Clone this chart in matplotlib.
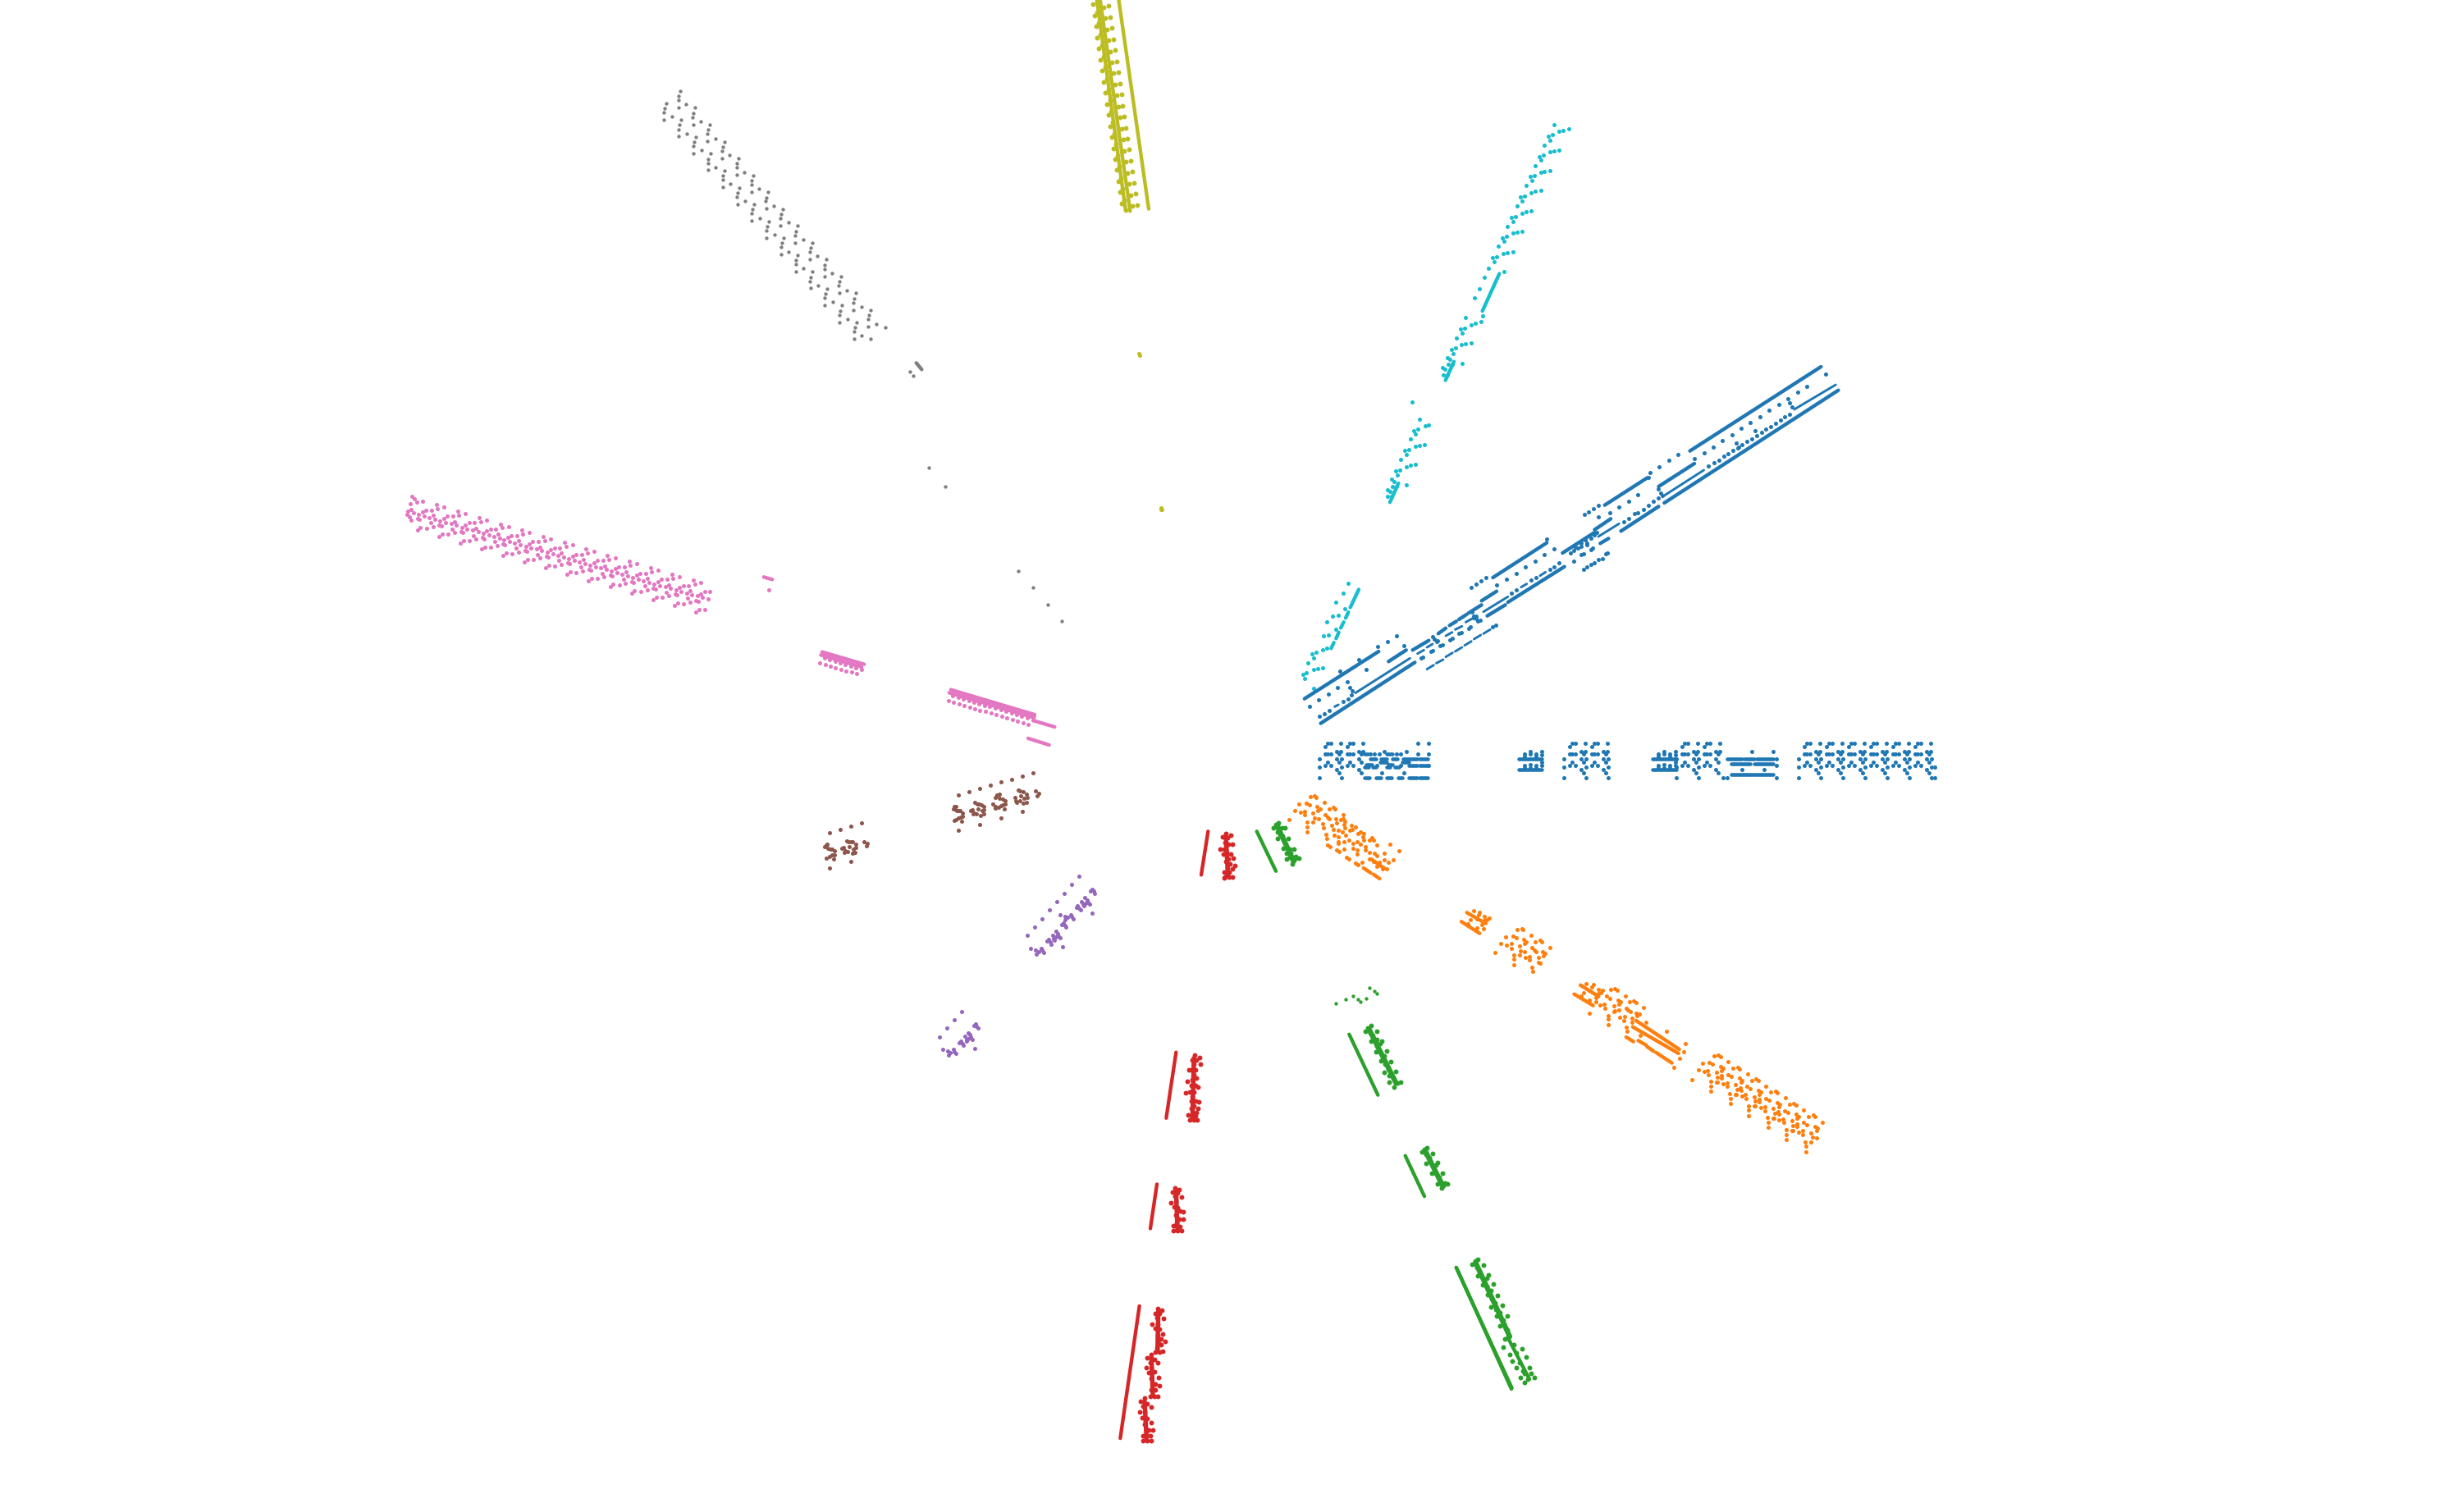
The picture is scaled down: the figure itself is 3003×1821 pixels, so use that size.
import numpy as np
import matplotlib
matplotlib.use('Agg')
import matplotlib.pyplot as plt

BLUE, ORANGE, GREEN, RED, PURPLE = '#1f77b4', '#ff7f0e', '#2ca02c', '#d62728', '#9467bd'
BROWN, PINK, GRAY, OLIVE, CYAN = '#8c564b', '#e377c2', '#7f7f7f', '#bcbd22', '#17becf'

# values, each block in the units of the crop it was read from

# blue, horizontal spoke: one list of x per row
blue_row_907 = [1618, 1622, 1634, 1645, 1649, 1661, 1728, 1741, 1916, 1920, 1932, 1943, 1947, 1959, 2053, 2057, 2069, 2080, 2084, 2096,
                2202, 2206, 2218, 2229, 2233, 2245, 2256, 2260, 2272, 2283, 2287, 2299, 2310, 2314, 2326, 2337, 2341, 2353]
blue_row_911 = [1615, 1642, 1913, 1940, 2050, 2077, 2199, 2226, 2253, 2280, 2307, 2334]
blue_row_917 = [1629, 1634, 1656, 1661, 1927, 1932, 1954, 1959, 2064, 2069, 2091, 2096, 2135, 2161, 2213, 2218, 2240, 2245, 2267, 2272,
                2294, 2299, 2321, 2326, 2348, 2353]
blue_row_920 = [1615, 1618, 1622, 1632, 1642, 1645, 1649, 1659, 1670, 1675, 1681, 1702, 1707, 1728, 1741, 1913, 1916, 1920, 1930, 1940,
                1943, 1947, 1957, 2050, 2053, 2057, 2067, 2077, 2080, 2084, 2094, 2199, 2202, 2206, 2216, 2226, 2229, 2233, 2243,
                2253, 2256, 2260, 2270, 2280, 2283, 2287, 2297, 2307, 2310, 2314, 2324, 2334, 2337, 2341, 2351]
blue_row_926 = [1608, 1629, 1635, 1656, 1906, 1927, 1933, 1954, 1960, 2043, 2064, 2070, 2091, 2165, 2192, 2213, 2219, 2240, 2246, 2267,
                2273, 2294, 2300, 2321, 2327, 2348, 2354]
blue_row_930 = [1618, 1632, 1645, 1659, 1916, 1930, 1943, 1957, 2053, 2067, 2080, 2094, 2202, 2216, 2229, 2243, 2256, 2270, 2283, 2297,
                2310, 2324, 2337, 2351]
blue_row_934 = [1615, 1622, 1642, 1649, 1678, 1707, 1741, 1913, 1920, 1940, 1947, 2050, 2057, 2077, 2084, 2165, 2199, 2206, 2226, 2233,
                2253, 2260, 2280, 2287, 2307, 2314, 2334, 2341]
blue_row_936 = [1608, 1635, 1906, 1933, 1960, 2043, 2070, 2192, 2219, 2246, 2273, 2300, 2327, 2354, 2358]
blue_row_939 = [1629, 1656, 1927, 1954, 2064, 2091, 2123, 2150, 2213, 2240, 2267, 2294, 2321, 2348]
blue_row_943 = [1632, 1659, 1684, 1711, 1930, 1957, 2067, 2094, 2216, 2243, 2270, 2297, 2324, 2351]
blue_row_949 = [1608, 1635, 1906, 1933, 1960, 2043, 2070, 2100, 2105, 2165, 2192, 2219, 2246, 2273, 2300, 2327, 2354, 2358]
blue_row_ticks = [(1858, 920), (1865, 917), (1872, 920), (1879, 917), (1858, 923), (1865, 920), (1872, 923), (1879, 921),
                  (1858, 934), (1865, 933), (1872, 934), (1879, 930), (1858, 937), (1865, 937), (1872, 937), (1879, 934),
                  (2021, 920), (2028, 917), (2035, 920), (2042, 917), (2021, 923), (2028, 920), (2035, 923), (2042, 921),
                  (2021, 934), (2028, 933), (2035, 934), (2042, 930), (2021, 937), (2028, 937), (2035, 937), (2042, 934),
                  (1687, 917), (1714, 917)]
# x1, y1, x2, y2
blue_row_runs = [(1663, 920, 1667, 920), (1690, 920, 1697, 920), (1670, 926, 1677, 926), (1683, 926, 1690, 926), (1697, 926, 1703, 926),
                 (1710, 926, 1727, 926), (1730, 926, 1740, 926), (1682, 930, 1690, 930), (1709, 930, 1717, 930),
                 (1665, 933, 1672, 933), (1692, 933, 1697, 933), (1717, 934, 1727, 934), (1730, 934, 1740, 934),
                 (1663, 936, 1668, 936), (1673, 936, 1677, 936), (1690, 936, 1694, 936), (1700, 936, 1705, 936),
                 (1663, 949, 1669, 949), (1677, 949, 1683, 949), (1690, 949, 1696, 949), (1704, 949, 1709, 949),
                 (1717, 949, 1727, 949), (1730, 949, 1740, 949), (1851, 926, 1879, 926), (1851, 939, 1879, 939),
                 (2014, 926, 2043, 926), (2014, 939, 2043, 939), (2105, 926, 2123, 926), (2126, 926, 2138, 926),
                 (2141, 926, 2161, 926), (2110, 932, 2133, 932), (2138, 932, 2161, 932), (2110, 945, 2136, 945),
                 (2138, 945, 2161, 945)]

# blue, diagonal spoke
blue_diag_thick = [(65, 1298, 262, 1125), (288, 1162, 335, 1120), (352, 1120, 395, 1085), (420, 1060, 440, 1040), (450, 1030, 468, 1015),
                   (475, 1008, 495, 990), (500, 985, 535, 955), (535, 940, 575, 905), (565, 855, 708, 728), (862, 590, 975, 490),
                   (835, 680, 878, 640), (1005, 522, 1100, 438), (1088, 392, 1436, 84), (108, 1388, 358, 1165), (550, 995, 598, 955),
                   (605, 945, 755, 815), (850, 730, 872, 712), (905, 685, 1005, 595), (1020, 582, 1482, 170), (750, 765, 835, 690)]
blue_diag_thin = [(200, 1277, 345, 1150), (540, 980, 605, 925), (845, 705, 900, 658), (1020, 555, 1125, 462), (1365, 240, 1475, 150),
                  (365, 1133, 382, 1120), (390, 1110, 405, 1098), (440, 1068, 457, 1055), (465, 1045, 483, 1033), (493, 1018, 510, 1005),
                  (390, 1190, 408, 1175), (415, 1168, 433, 1155), (440, 1145, 458, 1130), (465, 1125, 483, 1110), (490, 1103, 508, 1088),
                  (515, 1080, 533, 1065), (540, 1060, 558, 1045), (145, 1327, 155, 1320), (640, 890, 655, 878), (690, 848, 705, 835)]
blue_diag_dots = [(105, 1362), (117, 1352), (130, 1340), (167, 1308), (180, 1298), (190, 1285), (615, 912), (628, 900), (667, 865), (680, 855),
                  (716, 825), (728, 815), (740, 800), (912, 650), (925, 640), (940, 622), (950, 617), (965, 605), (978, 592), (992, 575),
                  (1005, 565), (1138, 447), (1152, 435), (1165, 425), (1178, 412), (1190, 402), (1203, 390), (1215, 380), (1227, 368),
                  (1240, 358), (1253, 347), (1265, 335), (1278, 325), (1290, 313), (1303, 302), (1315, 290), (1328, 280), (1340, 268),
                  (1352, 258), (78, 1325), (103, 1303), (128, 1280), (153, 1258), (178, 1235), (228, 1192), (285, 1088), (310, 1067),
                  (328, 1104), (260, 1108), (210, 1155), (160, 1197), (185, 1258), (192, 1270), (508, 890), (520, 880), (533, 868),
                  (547, 856), (576, 883), (601, 861), (627, 840), (652, 817), (677, 795), (702, 772), (727, 751), (708, 713), (808, 625),
                  (820, 615), (833, 603), (846, 591), (845, 632), (876, 618), (900, 597), (925, 575), (950, 552), (978, 488), (982, 470),
                  (1007, 449), (1032, 427), (1057, 405), (1100, 420), (1125, 398), (1150, 377), (1175, 354), (1200, 332), (1225, 310),
                  (1249, 288), (1275, 266), (1299, 244), (1325, 222), (1349, 200), (1374, 178), (1399, 155), (1449, 112), (1212, 362),
                  (1218, 378), (1262, 318), (1352, 215), (1358, 232), (1005, 530), (1010, 545), (1015, 555), (418, 1085), (515, 1003),
                  (520, 995), (375, 1150), (380, 1147), (400, 1125), (405, 1123), (425, 1105), (432, 1100), (450, 1083), (457, 1078),
                  (475, 1060), (482, 1055), (500, 1040), (505, 1035), (525, 1015), (532, 1010), (565, 1035), (572, 1028), (405, 1070),
                  (410, 1080), (415, 1090), (510, 980), (515, 995), (520, 1005), (770, 765), (780, 755), (790, 748), (800, 740), (815, 730),
                  (785, 745), (800, 728), (810, 718), (825, 710), (835, 700), (840, 690), (780, 795), (800, 772), (805, 768), (825, 752),
                  (830, 748), (815, 735), (805, 825), (815, 815), (825, 808), (835, 800), (845, 790), (855, 785), (865, 768), (870, 765)]

cyan_dots = [(1001, 29), (982, 61), (996, 57), (988, 71), (1020, 48), (1035, 45), (1057, 40), (967, 85), (948, 116), (963, 113), (954, 126),
             (986, 104), (1001, 100), (1020, 98), (933, 140), (914, 171), (929, 168), (920, 182), (953, 159), (967, 156), (987, 154),
             (899, 195), (880, 227), (895, 224), (886, 237), (918, 214), (933, 211), (953, 209), (866, 251), (846, 282), (861, 279),
             (852, 293), (885, 270), (899, 266), (919, 265), (832, 306), (812, 338), (827, 334), (818, 348), (851, 325), (866, 322),
             (885, 320), (798, 361), (778, 393), (793, 390), (784, 404), (817, 381), (832, 378), (851, 376), (762, 421), (818, 431),
             (746, 446), (728, 476), (712, 502), (734, 567), (742, 552), (713, 572), (699, 575), (679, 556), (660, 587), (675, 584),
             (666, 598), (645, 611), (664, 630), (679, 627), (699, 625), (626, 642), (641, 638), (632, 653), (612, 665), (622, 670),
             (616, 684), (630, 684), (595, 693), (604, 697), (598, 712), (612, 712), (665, 680), (484, 787), (510, 833), (490, 864),
             (505, 860), (496, 874), (530, 852), (544, 849), (476, 888), (457, 919), (471, 916), (462, 930), (495, 908), (510, 904),
             (529, 902), (442, 944), (423, 975), (437, 972), (428, 985), (461, 963), (476, 959), (495, 957), (408, 997), (418, 1003),
             (412, 1016), (426, 1016), (392, 1025), (401, 1030), (394, 1044), (408, 1044), (461, 1013), (248, 1281), (231, 1309),
             (204, 1332), (237, 1351), (193, 1370), (213, 1368), (170, 1387), (203, 1406), (159, 1425), (178, 1423), (156, 1462),
             (171, 1458), (118, 1473), (131, 1470), (123, 1484), (102, 1498), (83, 1529), (97, 1526), (122, 1517), (137, 1514),
             (156, 1512), (89, 1540), (122, 1567)]
cyan_runs = [(802, 436, 740, 538), (636, 676, 605, 727), (433, 1008, 402, 1060), (288, 1298, 257, 1347), (250, 1360, 240, 1376),
             (233, 1387, 222, 1403), (215, 1415, 205, 1432), (197, 1443, 187, 1459)]

olive_runs = [(130, 0, 240, 767), (50, 0, 155, 770), (62, 0, 172, 775)]
olive_dots = [(93, 25), (99, 66), (105, 106), (110, 146), (116, 187), (122, 227), (128, 267), (134, 308), (140, 348), (145, 389), (151, 429),
              (157, 470), (162, 510), (168, 550), (174, 591), (180, 631), (186, 672), (192, 712), (197, 752), (35, 19), (41, 60), (47, 100),
              (52, 141), (58, 181), (64, 222), (70, 262), (76, 302), (82, 342), (87, 383), (93, 423), (99, 464), (105, 504), (111, 545),
              (117, 585), (123, 625), (128, 666), (134, 706), (140, 746), (76, 30), (81, 70), (87, 110), (93, 150), (99, 191), (105, 231),
              (110, 271), (117, 312), (123, 352), (129, 393), (135, 433), (140, 474), (146, 514), (151, 554), (157, 595), (163, 635),
              (169, 676), (175, 716), (180, 756), (50, 48), (56, 88), (62, 128), (68, 169), (74, 209), (80, 249), (86, 290), (92, 330),
              (98, 370), (103, 411), (109, 451), (115, 492), (121, 532), (126, 572), (132, 613), (138, 653), (144, 694), (150, 734),
              (155, 772)]
olive_specks = [(1388, 432), (1389, 434), (1415, 620), (1416, 622), (1415, 622)]

gray_dots = [(147, 65), (141, 85), (140, 99), (140, 126), (168, 115), (201, 127), (195, 146), (193, 161), (194, 188), (222, 177), (255, 189),
             (248, 208), (246, 223), (247, 249), (275, 239), (308, 251), (302, 269), (300, 285), (300, 311), (328, 300), (361, 312),
             (355, 331), (353, 346), (354, 373), (382, 362), (415, 374), (409, 393), (407, 408), (407, 435), (435, 424), (468, 436),
             (462, 455), (460, 469), (461, 496), (489, 485), (522, 497), (516, 516), (514, 531), (514, 558), (542, 547), (575, 559),
             (569, 578), (567, 593), (567, 620), (596, 608), (629, 621), (623, 639), (620, 655), (621, 681), (649, 670), (682, 682),
             (676, 701), (674, 716), (674, 743), (703, 732), (736, 744), (729, 763), (727, 778), (728, 804), (756, 794), (789, 805),
             (783, 825), (781, 840), (781, 866), (810, 855), (842, 867), (836, 886), (834, 901), (834, 928), (863, 917), (896, 929),
             (96, 110), (90, 129), (88, 144), (88, 170), (116, 159), (150, 172), (144, 190), (141, 206), (142, 232), (170, 221), (203, 233),
             (197, 252), (195, 267), (195, 294), (224, 283), (257, 295), (250, 314), (249, 329), (249, 355), (277, 345), (310, 357),
             (304, 376), (302, 391), (302, 417), (330, 406), (363, 419), (358, 437), (355, 452), (356, 479), (384, 468), (417, 480),
             (411, 499), (409, 514), (409, 540), (437, 530), (470, 542), (464, 561), (462, 576), (463, 602), (491, 591), (524, 603),
             (518, 622), (516, 637), (516, 664), (544, 653), (577, 665), (571, 684), (569, 699), (569, 726), (598, 715), (631, 727),
             (625, 746), (622, 761), (623, 787), (651, 776), (684, 789), (678, 807), (675, 822), (676, 849), (704, 838), (738, 850),
             (731, 869), (729, 884), (730, 911), (758, 900), (791, 912), (785, 931), (783, 946), (783, 972), (811, 961), (844, 973),
             (986, 1093), (999, 1108)]
gray_runs = [(1010, 1060, 1030, 1084)]
gray_inner = [(1132, 571), (1152, 594), (1241, 697), (1259, 717), (1277, 738), (1294, 758)]

pink_dots = [(43, 47), (48, 57), (39, 75), (53, 70), (67, 65), (41, 95), (33, 102), (30, 113), (36, 123), (41, 135), (46, 108),
             (99, 79), (117, 88), (102, 93), (88, 98), (75, 98), (67, 105), (58, 114), (71, 120), (83, 125), (92, 117), (96, 131), (86, 144), (91, 158), (76, 164), (62, 163), (55, 171), (56, 129), (60, 133),
             (149, 102), (167, 111), (152, 116), (138, 121), (125, 121), (117, 128), (108, 137), (121, 143), (133, 148), (142, 140), (146, 154), (136, 167), (141, 181), (126, 187), (112, 186), (105, 194), (106, 152), (110, 156),
             (199, 126), (217, 135), (202, 140), (188, 145), (175, 145), (167, 152), (158, 161), (171, 167), (183, 172), (192, 164), (196, 178), (186, 191), (191, 205), (176, 211), (162, 210), (155, 218), (156, 176), (160, 180),
             (249, 149), (267, 158), (252, 163), (238, 168), (225, 168), (217, 175), (208, 184), (221, 190), (233, 195), (242, 187), (246, 201), (236, 214), (241, 228), (226, 234), (212, 233), (205, 241), (206, 199), (210, 203),
             (298, 172), (316, 181), (301, 186), (287, 191), (274, 191), (266, 198), (257, 207), (270, 213), (282, 218), (291, 210), (295, 224), (285, 237), (290, 251), (275, 257), (261, 256), (254, 264), (255, 222), (259, 226),
             (348, 195), (366, 204), (351, 209), (337, 214), (324, 214), (316, 221), (307, 230), (320, 236), (332, 241), (341, 233), (345, 247), (335, 260), (340, 274), (325, 280), (311, 279), (304, 287), (305, 245), (309, 249),
             (398, 217), (416, 226), (401, 231), (387, 236), (374, 236), (366, 243), (357, 252), (370, 258), (382, 263), (391, 255), (395, 269), (385, 282), (390, 296), (375, 302), (361, 301), (354, 309), (355, 267), (359, 271),
             (448, 241), (466, 250), (451, 255), (437, 260), (424, 260), (416, 267), (407, 276), (420, 282), (432, 287), (441, 279), (445, 293), (435, 306), (440, 320), (425, 326), (411, 325), (404, 333), (405, 291), (409, 295),
             (498, 264), (516, 273), (501, 278), (487, 283), (474, 283), (466, 290), (457, 299), (470, 305), (482, 310), (491, 302), (495, 316), (485, 329), (490, 343), (475, 349), (461, 348), (454, 356), (455, 314), (459, 318),
             (548, 286), (566, 295), (551, 300), (537, 305), (524, 305), (516, 312), (507, 321), (520, 327), (532, 332), (541, 324), (545, 338), (535, 351), (540, 365), (525, 371), (511, 370), (504, 378), (505, 336), (509, 340),
             (598, 310), (616, 319), (601, 324), (587, 329), (574, 329), (566, 336), (557, 345), (570, 351), (582, 356), (591, 348), (595, 362), (585, 375), (590, 389), (575, 395), (561, 394), (554, 402), (555, 360), (559, 364),
             (648, 333), (666, 342), (651, 347), (637, 352), (624, 352), (616, 359), (607, 368), (620, 374), (632, 379), (641, 371), (645, 385), (635, 398), (640, 412), (625, 418), (611, 417), (604, 425), (605, 383), (609, 387),
             (698, 355), (716, 364), (701, 369), (687, 374), (674, 374), (666, 381), (657, 390), (670, 396), (682, 401), (691, 393), (695, 407), (685, 420), (690, 434), (675, 440), (661, 439), (654, 447), (655, 405), (659, 409),
             (737, 396), (724, 396), (715, 404), (707, 412), (719, 418), (732, 423), (704, 429), (710, 431), (725, 462), (711, 462), (704, 470),
             (874, 389),
             (992, 656), (1005, 662), (1017, 668), (1029, 674), (1042, 680), (1054, 686), (1067, 691), (1079, 697),
             (1003, 638), (1015, 644), (1028, 650), (1040, 656), (1052, 662), (1065, 668), (1077, 674), (1090, 680),
             (1302, 776), (1315, 782), (1327, 788), (1340, 794), (1352, 800), (1364, 806), (1377, 812), (1389, 817), (1401, 823), (1414, 829),
             (1426, 835), (1439, 841), (1451, 847), (1463, 853), (1476, 857),
             (1292, 795), (1304, 800), (1317, 806), (1329, 812), (1342, 818), (1354, 824), (1366, 830), (1379, 835), (1391, 841), (1404, 847),
             (1416, 853), (1429, 858), (1441, 864), (1454, 870), (1466, 875), (1478, 881)]
pink_runs = [(862, 343, 882, 352), (998, 617, 1096, 662), (995, 628, 1090, 672), (1298, 755, 1493, 846), (1294, 766, 1487, 855),
             (1493, 846, 1490, 868), (1490, 868, 1540, 891), (1478, 933, 1527, 957)]

brown_dots = [(533, 119), (572, 108), (611, 96), (650, 85), (689, 73), (728, 62), (768, 50), (807, 39), (516, 170), (520, 163), (525, 162),
              (518, 172), (527, 178), (535, 178), (540, 176), (550, 186), (550, 198), (543, 200), (533, 205), (525, 210), (520, 212),
              (547, 215), (534, 249), (595, 148), (603, 152), (610, 153), (618, 155), (628, 163), (628, 175), (620, 178), (628, 190),
              (615, 195), (605, 170), (585, 175), (578, 177), (590, 185), (588, 190), (600, 188), (612, 227), (683, 117), (675, 120),
              (670, 128), (685, 132), (695, 135), (705, 140), (705, 152), (695, 155), (690, 160), (680, 165), (668, 168), (660, 153),
              (703, 170), (668, 162), (690, 203), (752, 102), (760, 106), (772, 108), (783, 116), (785, 130), (775, 132), (762, 124),
              (740, 130), (745, 140), (748, 147), (758, 142), (772, 150), (782, 148), (768, 180), (816, 106), (827, 115), (823, 123),
              (63, 257), (102, 246), (141, 235), (180, 223), (46, 310), (50, 302), (55, 300), (57, 315), (65, 317), (72, 318), (80, 323),
              (80, 340), (72, 340), (62, 345), (50, 350), (78, 354), (64, 387), (125, 287), (133, 291), (140, 292), (147, 292), (158, 301),
              (158, 313), (150, 317), (157, 330), (146, 334), (135, 308), (115, 313), (108, 314), (120, 325), (118, 330), (130, 327),
              (142, 364), (190, 291), (200, 298), (197, 307)]

purple_dots = [(554, 58), (527, 88), (501, 119), (474, 150), (447, 181), (420, 212), (394, 243), (367, 273), (602, 105), (598, 110), (608, 112),
               (613, 119), (577, 135), (585, 145), (565, 149), (588, 152), (594, 159), (578, 156), (570, 160), (572, 166), (550, 166),
               (545, 171), (555, 175), (560, 181), (602, 193), (486, 197), (504, 203), (513, 208), (524, 197), (528, 205), (533, 212),
               (505, 217), (497, 229), (491, 234), (503, 238), (507, 243), (470, 259), (459, 272), (476, 268), (480, 275), (470, 280),
               (487, 283), (463, 285), (465, 291), (443, 289), (438, 295), (449, 297), (453, 305), (495, 316), (379, 321), (397, 326),
               (407, 332), (417, 320), (421, 328), (427, 336), (398, 341), (127, 551), (100, 582), (73, 613), (46, 644), (176, 597),
               (171, 603), (181, 605), (186, 613), (150, 629), (157, 637), (139, 642), (160, 645), (166, 653), (150, 650), (143, 655),
               (145, 660), (124, 659), (118, 665), (128, 668), (133, 675), (174, 687), (58, 691), (76, 696), (85, 702), (96, 690),
               (100, 700), (106, 706), (78, 711)]

red_runs = [(397, 28, 372, 132), (280, 556, 244, 713), (210, 871, 186, 977), (146, 1162, 76, 1478)]
red_spines = [(462, 40, 470, 135), (345, 570, 340, 715), (280, 885, 285, 980), (215, 1175, 212, 1270), (190, 1285, 195, 1375), (165, 1390, 172, 1480)]
red_dots = [(463, 33), (480, 38), (450, 42), (468, 44), (458, 55), (485, 58), (470, 58), (455, 70), (440, 70), (465, 78), (480, 83), (452, 82),
            (470, 95), (490, 92), (462, 100), (478, 105), (495, 110), (485, 118), (468, 115), (455, 125), (475, 125), (485, 138), (460, 138),
            (475, 138), (455, 140), (465, 128),
            (348, 563), (365, 568), (340, 575), (355, 575), (345, 585), (370, 585), (335, 598), (350, 597), (328, 598), (345, 610), (340, 622),
            (322, 625), (355, 618), (335, 635), (350, 635), (360, 638), (315, 652), (330, 650), (345, 650), (340, 662), (350, 672), (362, 675),
            (335, 672), (345, 685), (360, 690), (335, 690), (355, 700), (325, 705), (350, 707), (330, 717), (345, 717), (358, 717),
            (277, 880), (292, 883), (268, 890), (285, 892), (275, 900), (300, 902), (262, 915), (280, 912), (272, 925), (285, 928), (295, 935),
            (305, 937), (280, 945), (290, 955), (305, 955), (282, 965), (270, 970), (295, 972), (270, 982), (285, 982), (300, 982),
            (213, 1168), (228, 1172), (203, 1180), (220, 1180), (210, 1190), (235, 1192), (193, 1205), (212, 1205), (205, 1215), (218, 1218),
            (232, 1228), (212, 1232), (225, 1240), (240, 1246), (215, 1250), (225, 1255), (210, 1262), (232, 1270), (205, 1272), (220, 1272),
            (190, 1278), (175, 1285), (200, 1290), (185, 1297), (213, 1298), (170, 1310), (190, 1310), (180, 1322), (200, 1320), (215, 1333),
            (190, 1335), (205, 1348), (220, 1352), (190, 1362), (205, 1362), (185, 1378), (200, 1378), (212, 1378),
            (165, 1382), (150, 1390), (175, 1395), (160, 1402), (190, 1403), (147, 1416), (165, 1415), (157, 1428), (175, 1430), (190, 1440),
            (165, 1445), (180, 1458), (195, 1458), (170, 1470), (160, 1472), (185, 1472), (160, 1484), (175, 1484), (190, 1484)]

green_runs = [(575, 28, 645, 123), (913, 513, 1018, 658), (1118, 803, 1188, 900), (1304, 1070, 1508, 1358)]
green_spines = [(650, 15, 710, 100), (985, 500, 1085, 630), (1190, 790, 1255, 875), (1375, 1058, 1500, 1235)]
green_dots = [(655, 8), (645, 12), (635, 20), (655, 22), (665, 20), (650, 30), (660, 35), (678, 20), (668, 40), (690, 45), (650, 45), (675, 50),
              (682, 58), (672, 68), (695, 70), (685, 80), (710, 70), (695, 90), (715, 95), (730, 93), (685, 95), (705, 105), (718, 88), (700, 80),
              (993, 492), (982, 498), (973, 505), (990, 510), (1015, 506), (1000, 515), (1005, 525), (1033, 530), (992, 530), (1015, 540),
              (1025, 535), (1010, 555), (1025, 555), (1050, 553), (1040, 565), (1030, 577), (1065, 578), (1045, 585), (1055, 595), (1040, 603),
              (1083, 602), (1060, 612), (1075, 618), (1090, 630), (1100, 627), (1060, 628), (1078, 638), (1015, 525),
              (1197, 784), (1187, 788), (1178, 793), (1195, 800), (1218, 797), (1205, 808), (1210, 815), (1237, 820), (1195, 822), (1220, 830),
              (1230, 825), (1215, 845), (1230, 845), (1253, 845), (1243, 855), (1262, 868), (1272, 870), (1248, 865), (1235, 870), (1250, 880),
              (1258, 875),
              (1383, 1050), (1373, 1055), (1362, 1062), (1380, 1070), (1405, 1065), (1390, 1080), (1395, 1090), (1423, 1088), (1383, 1090),
              (1405, 1100), (1415, 1095), (1400, 1112), (1415, 1115), (1440, 1110), (1430, 1125), (1420, 1135), (1455, 1137), (1435, 1145),
              (1445, 1155), (1432, 1165), (1473, 1160), (1450, 1170), (1465, 1178), (1452, 1185), (1490, 1185), (1475, 1195), (1480, 1205),
              (1465, 1210), (1490, 1220), (1495, 1235), (1482, 1240)]
green_tail_runs = [(1838, 1632, 1864, 1682), (1775, 1546, 1842, 1694)]
green_tail = [(1838, 1632), (1845, 1640), (1832, 1643), (1848, 1650), (1840, 1652), (1855, 1645), (1843, 1660), (1852, 1662), (1860, 1655),
              (1848, 1668), (1856, 1672), (1864, 1668), (1853, 1680), (1862, 1682), (1870, 1680), (1858, 1675), (1866, 1675), (1858, 1686)]
green_specks = [(153, 822), (180, 806), (199, 795), (213, 807), (220, 815), (236, 805), (245, 766), (258, 778), (265, 787)]

orange_dots = [(82, 66), (93, 62), (99, 68), (122, 87), (51, 93), (72, 90), (80, 97), (101, 102), (134, 110), (145, 105), (151, 112), (40, 117),
               (55, 124), (67, 119), (67, 133), (90, 126), (104, 118), (109, 110), (124, 133), (130, 140), (135, 146), (173, 131), (93, 143),
               (105, 147), (90, 160), (73, 159), (75, 176), (75, 196), (24, 151), (116, 165), (119, 180), (153, 147), (165, 150), (172, 148),
               (178, 157), (155, 162), (174, 168), (142, 170), (176, 180), (145, 187), (160, 190), (195, 170), (205, 178), (190, 190), (198, 185),
               (170, 195), (180, 207), (125, 205), (127, 220), (147, 208), (160, 213), (228, 200), (213, 200), (220, 195), (227, 212), (130, 242),
               (137, 248), (158, 232), (160, 238), (175, 232), (188, 225), (200, 237), (210, 232), (228, 225), (220, 240), (232, 250), (250, 215),
               (244, 225), (256, 225), (264, 242), (300, 240), (325, 263), (155, 262), (162, 268), (175, 258), (200, 255), (210, 262), (232, 262),
               (245, 270), (258, 272), (265, 282), (284, 273), (210, 277), (182, 287), (188, 293), (245, 295), (255, 302), (270, 305), (285, 298),
               (295, 305), (310, 296), (207, 308), (225, 305), (212, 315), (265, 320), (280, 330), (292, 330),
               (528, 484), (545, 488), (542, 497), (558, 505), (572, 510), (565, 517), (520, 515), (538, 512), (512, 530), (558, 520), (552, 535),
               (537, 545), (555, 548),
               (648, 551), (660, 548), (664, 553), (686, 573), (615, 579), (636, 575), (644, 582), (665, 589), (697, 596), (709, 591), (715, 598),
               (603, 603), (619, 609), (631, 604), (631, 620), (654, 612), (668, 604), (672, 597), (688, 619), (694, 626), (699, 632), (737, 617),
               (657, 629), (668, 632), (654, 646), (638, 645), (639, 661), (639, 681), (587, 636), (680, 650), (670, 653), (682, 664), (716, 633),
               (724, 640), (718, 648), (705, 655), (705, 672), (710, 675), (688, 690), (690, 706),
               (835, 750), (855, 752), (852, 762), (868, 770), (880, 775), (875, 782), (828, 782), (847, 778), (822, 795), (868, 785), (862, 800),
               (845, 810), (862, 815), (844, 857),
               (903, 772), (915, 768), (921, 775), (943, 795), (873, 828), (892, 796), (900, 803), (922, 810), (954, 815), (966, 812), (972, 820),
               (885, 825), (887, 840), (911, 832), (926, 825), (930, 817), (945, 840), (950, 847), (956, 853), (993, 838), (915, 848), (925, 846),
               (912, 853), (895, 866), (895, 880), (895, 901), (940, 870), (927, 873), (938, 885), (973, 858), (982, 860), (975, 868), (962, 875),
               (960, 892), (1000, 890), (946, 910), (947, 925), (983, 940), (1055, 925), (1106, 968), (1101, 998), (1090, 1022), (1075, 1055),
               (1184, 1015), (1197, 1011), (1202, 1017), (1224, 1036), (1153, 1042), (1172, 1038), (1181, 1045), (1203, 1052), (1142, 1066),
               (1157, 1072), (1168, 1068), (1169, 1082), (1192, 1075), (1206, 1067), (1210, 1059), (1195, 1092), (1206, 1095), (1192, 1110),
               (1176, 1108), (1177, 1125), (1177, 1144), (1125, 1100),
               (1236, 1059), (1249, 1055), (1254, 1061), (1276, 1080), (1205, 1086), (1224, 1082), (1233, 1089), (1255, 1096), (1194, 1110),
               (1209, 1116), (1220, 1112), (1221, 1126), (1244, 1119), (1258, 1111), (1262, 1103), (1247, 1136), (1258, 1139), (1244, 1154),
               (1228, 1152), (1229, 1169), (1229, 1188),
               (1287, 1103), (1300, 1099), (1305, 1105), (1327, 1124), (1256, 1130), (1275, 1126), (1284, 1133), (1306, 1140), (1245, 1154),
               (1260, 1160), (1271, 1156), (1272, 1170), (1295, 1163), (1309, 1155), (1313, 1147), (1298, 1180), (1309, 1183), (1295, 1198),
               (1279, 1196), (1280, 1213), (1280, 1232),
               (1339, 1147), (1352, 1143), (1357, 1149), (1379, 1168), (1308, 1174), (1327, 1170), (1336, 1177), (1358, 1184), (1297, 1198),
               (1312, 1204), (1323, 1200), (1324, 1214), (1347, 1207), (1361, 1199), (1365, 1191), (1350, 1224), (1361, 1227), (1347, 1242),
               (1331, 1240), (1332, 1257), (1332, 1276),
               (1390, 1191), (1403, 1187), (1408, 1193), (1430, 1212), (1359, 1218), (1378, 1214), (1387, 1221), (1409, 1228), (1348, 1242),
               (1363, 1248), (1374, 1244), (1375, 1258), (1398, 1251), (1412, 1243), (1416, 1235), (1401, 1268), (1412, 1271), (1398, 1286),
               (1382, 1284), (1383, 1301), (1383, 1320),
               (1442, 1235), (1455, 1231), (1460, 1237), (1481, 1257), (1411, 1262), (1430, 1258), (1439, 1265), (1461, 1272), (1400, 1286),
               (1415, 1292), (1426, 1288), (1427, 1302), (1450, 1295), (1464, 1287), (1468, 1279), (1453, 1312), (1464, 1315), (1450, 1330),
               (1434, 1328), (1435, 1345), (1435, 1364)]
orange_runs = [(228, 327, 248, 345), (255, 350, 272, 366), (270, 315, 285, 328), (250, 295, 265, 310), (495, 523, 545, 566), (510, 490, 562, 530),
               (803, 788, 855, 830), (820, 755, 870, 797), (972, 885, 1090, 990), (963, 908, 1088, 1005), (945, 945, 965, 962),
               (978, 958, 1000, 975), (1002, 980, 1020, 997), (1027, 1002, 1070, 1040)]


def rows(pts, x0, y0, sx, sy):
    a = np.array(pts, dtype=float)
    return x0 + a[:, 0] / sx, y0 + a[:, 1] / sy


def runs(segs, x0, y0, sx, sy, color, lw):
    for x1, y1, x2, y2 in segs:
        ax.plot([x0 + x1 / sx, x0 + x2 / sx], [y0 + y1 / sy, y0 + y2 / sy], color=color, lw=lw, solid_capstyle='round')


def dots(x, y, color, s=1.45):
    ax.scatter(x, y, s=s, color=color, linewidths=0)


fig = plt.figure(figsize=(10.01, 6.0733), dpi=300)
ax = fig.add_axes([0, 0, 1, 1])
ax.set_xlim(0, 3003)
ax.set_ylim(1822, 0)
ax.axis('off')

# crop frames the readings were taken in: x0, y0, x scale, y scale
BLUE_F = (1560, 420, 2.178, 3)
ORANGE_F = (1560, 950, 2.24, 3)
LOWER_F = (1340, 1000, 3, 1.96)
PINK_F = (480, 590, 1.912, 3)
GRAY_F = (780, 90, 3, 3)
CYAN_F = (1560, 140, 3, 2.24)
OLIVE_F = (1320, 0, 3, 3)
BROWN_F = (990, 930, 3, 3)
PURPLE_F = (1130, 1050, 3, 3)

for y, xs in [(907, blue_row_907), (911, blue_row_911), (917, blue_row_917), (920, blue_row_920), (926, blue_row_926),
              (930, blue_row_930), (934, blue_row_934), (936, blue_row_936), (939, blue_row_939), (943, blue_row_943),
              (949, blue_row_949)]:
    dots(xs, [y] * len(xs), BLUE)
dots(*rows(blue_row_ticks, 0, 0, 1, 1), BLUE)
runs(blue_row_runs, 0, 0, 1, 1, BLUE, 1.1)
runs(blue_diag_thick, *BLUE_F, BLUE, 1.05)
runs(blue_diag_thin, *BLUE_F, BLUE, 0.7)
dots(*rows(blue_diag_dots, *BLUE_F), BLUE)

dots(*rows(cyan_dots, *CYAN_F), CYAN)
runs(cyan_runs, *CYAN_F, CYAN, 1.05)

runs(olive_runs, *OLIVE_F, OLIVE, 1.05)
dots(*rows(olive_dots, *OLIVE_F), OLIVE, 2.0)
dots(*rows(olive_specks, 0, 0, 1, 1), OLIVE)

dots(*rows(gray_dots, *GRAY_F), GRAY, 1.1)
runs(gray_runs, *GRAY_F, GRAY, 1.05)
dots(*rows(gray_inner, 0, 0, 1, 1), GRAY, 1.1)

dots(*rows(pink_dots, *PINK_F), PINK)
runs(pink_runs, *PINK_F, PINK, 1.05)

dots(*rows(brown_dots, *BROWN_F), BROWN)
dots(*rows(purple_dots, *PURPLE_F), PURPLE)

runs(red_runs, *LOWER_F, RED, 1.05)
runs(red_spines, *LOWER_F, RED, 1.3)
dots(*rows(red_dots, *LOWER_F), RED, 2.0)

runs(green_runs, *LOWER_F, GREEN, 1.05)
runs(green_spines, *LOWER_F, GREEN, 1.5)
runs(green_tail_runs, 0, 0, 1, 1, GREEN, 1.05)
dots(*rows(green_dots, *LOWER_F), GREEN, 2.0)
dots(*rows(green_tail, 0, 0, 1, 1), GREEN, 2.0)
dots(*rows(green_specks, *ORANGE_F), GREEN, 1.1)

dots(*rows(orange_dots, *ORANGE_F), ORANGE)
runs(orange_runs, *ORANGE_F, ORANGE, 1.05)

plt.savefig('out.png', dpi=300)
